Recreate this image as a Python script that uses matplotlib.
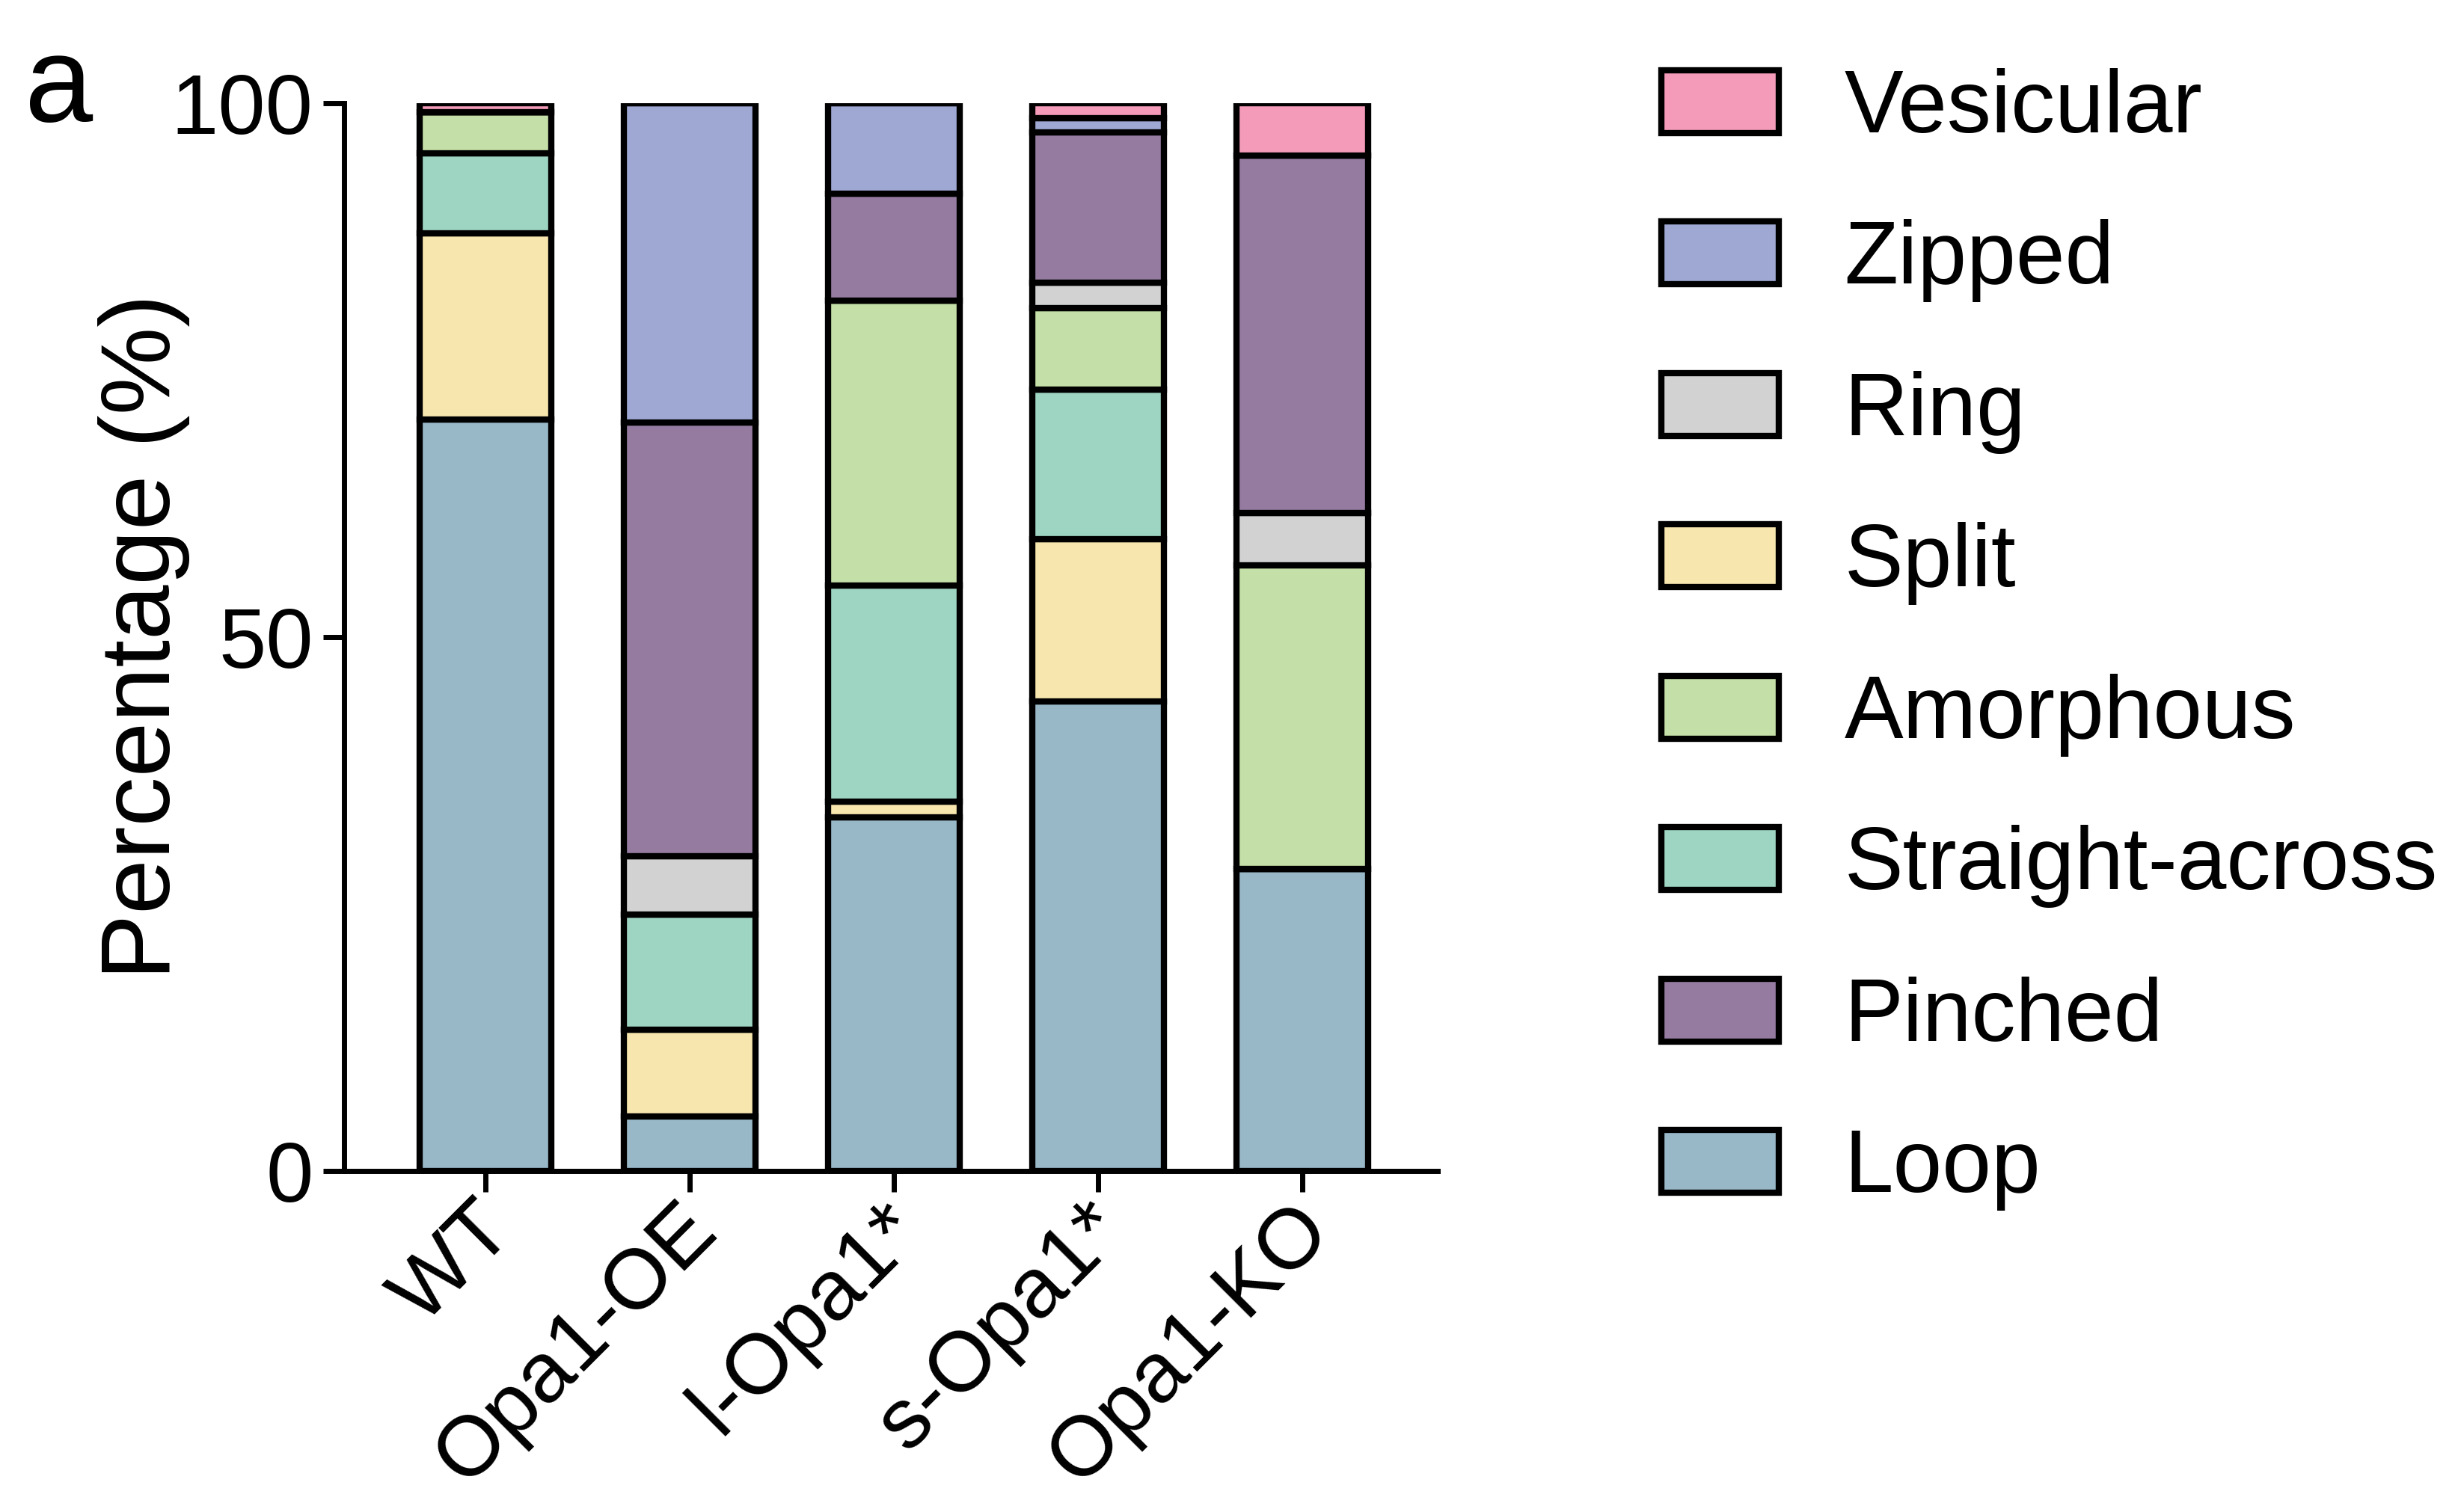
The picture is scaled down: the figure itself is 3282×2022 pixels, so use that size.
import numpy as np
import matplotlib
matplotlib.use('Agg')
import matplotlib.pyplot as plt
import matplotlib.transforms as mtransforms

plt.rcParams['font.family'] = ['Liberation Sans', 'DejaVu Sans']

# Groups on the x axis
categories = ['WT', 'Opa1-OE', 'l-Opa1*', 's-Opa1*', 'Opa1-KO']

# Percentages per crista shape (bottom to top of each stack)
loop = [70.4, 5.1, 33.1, 44.0, 28.3]
split = [17.4, 8.1, 1.5, 15.2, 0.0]
straight_across = [7.5, 10.8, 20.2, 14.0, 0.0]
amorphous = [3.9, 0.0, 26.7, 7.6, 28.4]
ring = [0.0, 5.5, 0.0, 2.4, 4.9]
pinched = [0.0, 40.6, 10.0, 14.1, 33.5]
zipped = [0.0, 29.9, 8.5, 1.3, 0.0]
vesicular = [0.8, 0.0, 0.0, 1.4, 4.9]

series = [
    ('Loop', loop, '#98b7c7'),
    ('Split', split, '#f7e6ae'),
    ('Straight-across', straight_across, '#9ed4c2'),
    ('Amorphous', amorphous, '#c4dfa7'),
    ('Ring', ring, '#d2d2d2'),
    ('Pinched', pinched, '#957ba0'),
    ('Zipped', zipped, '#9ea8d3'),
    ('Vesicular', vesicular, '#f39bb9'),
]
legend_order = ['Vesicular', 'Zipped', 'Ring', 'Split', 'Amorphous',
                'Straight-across', 'Pinched', 'Loop']

fig = plt.figure(figsize=(32.82, 20.22), dpi=100)
ax = fig.add_axes([0.1403, 0.2257, 0.4452, 0.706])

x = np.arange(len(categories))
bottom = np.zeros(len(categories))
handles = {}
for name, vals, color in series:
    vals = np.array(vals)
    bars = ax.bar(x, vals, width=0.645, bottom=bottom, color=color,
                  edgecolor='black', linewidth=6, label=name)
    handles[name] = bars
    bottom += vals

ax.set_xlim(-0.69, 4.66)
ax.set_ylim(0, 100)
ax.set_yticks([0, 50, 100])
ax.set_xticks(x)
ax.set_xticklabels(categories, rotation=45, ha='right', rotation_mode='anchor')
ax.tick_params(axis='both', labelsize=82, width=5, length=20)
ax.tick_params(axis='y', pad=10)
ax.tick_params(axis='x', pad=2)
ax.set_ylabel('Percentage (%)', fontsize=95, labelpad=-18)

# nudge the rotated labels a little left, like the original
shift = mtransforms.ScaledTranslation(-0.18, 0.06, fig.dpi_scale_trans)
for lbl in ax.get_xticklabels():
    lbl.set_transform(lbl.get_transform() + shift)

for side in ['top', 'right']:
    ax.spines[side].set_visible(False)
for side in ['left', 'bottom']:
    ax.spines[side].set_linewidth(5)

leg = fig.legend([handles[n] for n in legend_order], legend_order,
                 loc='upper left', bbox_to_anchor=(0.6767, 0.955),
                 frameon=False, fontsize=85, borderpad=0, borderaxespad=0,
                 handlelength=1.33, handleheight=0.72, handletextpad=0.74,
                 labelspacing=0.775)

fig.text(0.010, 0.978, 'a', fontsize=118, va='top', ha='left')

fig.savefig('out.png', dpi=100)
